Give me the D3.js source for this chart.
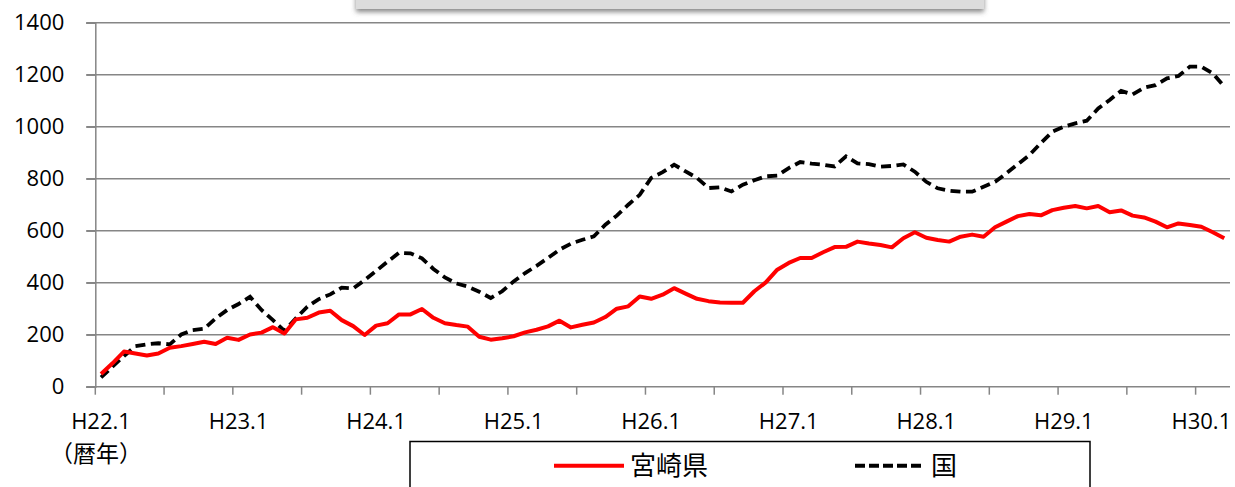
<!DOCTYPE html>
<html lang="ja">
<head>
<meta charset="utf-8">
<title>宮崎県と国</title>
<script src="https://d3js.org/d3.v7.min.js"></script>
<style>
  body { margin: 0; background: #fff; }
  svg { display: block; }
</style>
</head>
<body>
<div id="chart"></div>
<script>
// monthly values, H22.1 .. H30.3
const miyazaki = [49, 90, 135, 128, 120, 128, 150, 156, 164, 173, 164, 188,
  180, 201, 208, 229, 205, 259, 265, 285, 292, 256, 233, 199,
  235, 244, 278, 278, 299, 265, 244, 237, 231, 192, 181, 186,
  194, 209, 219, 232, 254, 228, 238, 247, 268, 300, 309, 347,
  338, 354, 379, 358, 338, 329, 324, 323, 323, 367, 401, 450,
  476, 495, 495, 517, 537, 538, 558, 551, 545, 536, 571, 594,
  573, 564, 558, 577, 585, 577, 613, 635, 656, 664, 659, 679,
  688, 695, 686, 695, 671, 678, 658, 651, 635, 613, 628, 622,
  615, 594, 571];
const national = [36, 77, 118, 156, 163, 167, 163, 201, 218, 223, 263, 295,
  318, 346, 295, 256, 215, 263, 308, 337, 355, 381, 378, 410,
  445, 481, 515, 513, 494, 453, 420, 397, 385, 365, 341, 367,
  405, 437, 465, 495, 527, 550, 565, 578, 623, 658, 700, 738,
  803, 825, 854, 828, 803, 764, 767, 751, 777, 794, 809, 812,
  841, 864, 858, 854, 847, 886, 859, 856, 846, 849, 855, 827,
  788, 763, 754, 750, 750, 769, 788, 821, 856, 891, 937, 981,
  1000, 1013, 1023, 1070, 1103, 1138, 1124, 1150, 1160, 1186, 1195, 1231,
  1231, 1205, 1154];
const years = ["H22", "H23", "H24", "H25", "H26", "H27", "H28", "H29", "H30"];
const tickLabels = ["H22.1", "H23.1", "H24.1", "H25.1", "H26.1", "H27.1", "H28.1", "H29.1", "H30.1"];
const yTicks = [0, 200, 400, 600, 800, 1000, 1200, 1400];
const seriesNames = ["宮崎県", "国"];

// category list: one per month
const months = [];
years.forEach(y => { for (let m = 1; m <= 12; m++) months.push(y + "." + m); });
const cats = months.slice(0, miyazaki.length);

const W = 1235, H = 487;
const plot = { left: 95.3, right: 1230, top: 22.7, bottom: 386.7 };
const gridColor = "#868686";
const labelFont = "'Open Sans', 'Noto Sans CJK JP', sans-serif";
const jpFont = "'Noto Sans CJK JP', sans-serif";

const svg = d3.select("#chart").append("svg")
    .attr("width", W)
    .attr("height", H);

const x = d3.scaleBand().domain(cats).range([plot.left, plot.right]).padding(0);
const y = d3.scaleLinear().domain([0, 1400]).range([plot.bottom, plot.top]);
const cx = d => x(d) + x.bandwidth() / 2;

/* the cut-off box at the very top */
const defs = svg.append("defs");
const sh = defs.append("filter").attr("id", "shadow")
    .attr("x", "-5%").attr("y", "-50%").attr("width", "110%").attr("height", "200%");
sh.append("feDropShadow")
    .attr("dx", 0).attr("dy", 3).attr("stdDeviation", 2.5)
    .attr("flood-color", "#555").attr("flood-opacity", 0.7);
svg.append("rect")
    .attr("x", 356).attr("y", -30)
    .attr("width", 628).attr("height", 39)
    .attr("fill", "#dcdcdc")
    .attr("filter", "url(#shadow)");

/* gridlines */
svg.append("g")
  .selectAll("line")
  .data(yTicks.filter(v => v > 0))
  .join("line")
    .attr("x1", plot.left - 9).attr("x2", plot.right)
    .attr("y1", d => y(d)).attr("y2", d => y(d))
    .attr("stroke", gridColor)
    .attr("stroke-width", 1.5);

/* y axis */
const yAxis = svg.append("g")
    .attr("transform", `translate(${plot.left},0)`)
    .call(d3.axisLeft(y).tickValues(yTicks).tickSize(9).tickFormat(d3.format("d")));
yAxis.select(".domain").attr("stroke", gridColor).attr("stroke-width", 1.5);
yAxis.selectAll(".tick line").attr("stroke", gridColor).attr("stroke-width", 1.5);
yAxis.selectAll(".tick text")
    .attr("x", -31)
    .attr("font-family", labelFont)
    .attr("font-size", 22)
    .attr("fill", "#000");

/* x axis: ticks every half year on category edges */
const xAxis = svg.append("g")
    .attr("transform", `translate(0,${plot.bottom})`);
xAxis.append("line")
    .attr("x1", plot.left - 9).attr("x2", plot.right)
    .attr("stroke", gridColor).attr("stroke-width", 1.5);
xAxis.selectAll("line.tk")
  .data(cats.filter((d, i) => i % 6 === 0))
  .join("line")
    .attr("class", "tk")
    .attr("x1", d => x(d)).attr("x2", d => x(d))
    .attr("y1", 0).attr("y2", 8)
    .attr("stroke", gridColor).attr("stroke-width", 1.5);
xAxis.selectAll("text")
  .data(tickLabels)
  .join("text")
    .attr("x", d => cx(d))
    .attr("y", 42)
    .attr("text-anchor", "middle")
    .attr("font-family", labelFont)
    .attr("font-size", 22)
    .text(d => d);

svg.append("text")
    .attr("x", 50).attr("y", 462)
    .attr("font-family", jpFont)
    .attr("font-size", 23)
    .text("（暦年）");

/* lines */
const line = d3.line().x((d, i) => cx(cats[i])).y(d => y(d));
svg.append("path")
    .datum(national)
    .attr("fill", "none")
    .attr("stroke", "#000")
    .attr("stroke-width", 3.8)
    .attr("stroke-dasharray", "10,5.5")
    .attr("d", line);
svg.append("path")
    .datum(miyazaki)
    .attr("fill", "none")
    .attr("stroke", "#ff0000")
    .attr("stroke-width", 4)
    .attr("stroke-linejoin", "round")
    .attr("d", line);

/* legend */
const lg = svg.append("g");
lg.append("rect")
    .attr("x", 410).attr("y", 441.5)
    .attr("width", 680).attr("height", 70)
    .attr("fill", "#fff")
    .attr("stroke", "#000")
    .attr("stroke-width", 1.5);
const items = [
  { name: seriesNames[0], x0: 554, color: "#ff0000", dash: null },
  { name: seriesNames[1], x0: 855, color: "#000", dash: "10,4" }
];
items.forEach(it => {
  lg.append("line")
      .attr("x1", it.x0).attr("x2", it.x0 + 70)
      .attr("y1", 465.7).attr("y2", 465.7)
      .attr("stroke", it.color)
      .attr("stroke-width", 4)
      .attr("stroke-dasharray", it.dash);
  lg.append("text")
      .attr("x", it.x0 + 76).attr("y", 475)
      .attr("font-family", jpFont)
      .attr("font-size", 26)
      .text(it.name);
});
</script>
</body>
</html>
